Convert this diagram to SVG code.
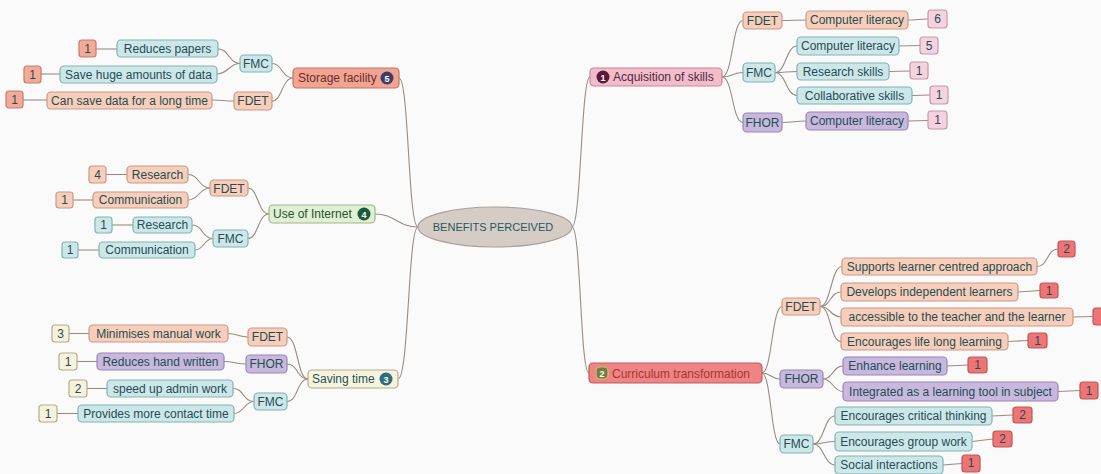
<svg xmlns="http://www.w3.org/2000/svg" width="1101" height="474" viewBox="0 0 1101 474">
<style>
text{font-family:"Liberation Sans",Arial,sans-serif;font-size:12px;fill:#244d54;}
.m{text-anchor:middle;}
rect{stroke-width:1.2;}
.s{fill:#f8cdb9;stroke:#c59c8a;}
.t{fill:#cde7e9;stroke:#80b3b8;}
.p{fill:#c8b8de;stroke:#9886b6;}
.g{fill:#e1efd2;stroke:#9db78c;}
.c{fill:#f6f2dc;stroke:#b4ad8c;}
.sf{fill:#f2a391;stroke:#c17767;}
.sc{fill:#f3ab98;stroke:#c27d6d;}
.pk{fill:#f4bccb;stroke:#c58797;}
.pc{fill:#f6d2de;stroke:#c39aab;}
.r{fill:#ef8484;stroke:#c25a5a;}
.rc{fill:#ee7575;stroke:#c05656;}
.b{font-size:9px;font-weight:bold;fill:#ffffff;text-anchor:middle;}
#connectors path{fill:none;stroke:#9c8b82;stroke-width:1.1;}
</style>
<rect x="0" y="0" width="1101" height="474" fill="#fafafa" stroke="none"/>
<g id="connectors">
<!-- central -->
<path d="M418 227 C408 227 409 78 399 78"/>
<path d="M418 227 C398 227 395 214 375 214"/>
<path d="M418 227 C408 227 409 379 398 379"/>
<path d="M572 227 C581 227 581 77 590 77"/>
<path d="M572 227 C581 227 580 373 589 373"/>
<!-- storage -->
<path d="M293 78 C282 78 282 63.5 272 63.5"/>
<path d="M293 78 C282 78 282 101 272 101"/>
<path d="M240 63.5 C229 63.5 229 49 218 49"/>
<path d="M240 63.5 C229 63.5 228 74 217 74"/>
<path d="M117 49 L96 49"/>
<path d="M60 74 L41 74"/>
<path d="M234 101 C223 101 223 100 212 100"/>
<path d="M47 100 L22 100"/>
<!-- internet -->
<path d="M269 214 C258 214 258 188 248 188"/>
<path d="M269 214 C258 214 258 238.5 248 238.5"/>
<path d="M210 188 C199 188 199 174.5 188 174.5"/>
<path d="M210 188 C199 188 199 200 188 200"/>
<path d="M127 174.5 L106 174.5"/>
<path d="M93 200 L73 200"/>
<path d="M213 238.5 C202 238.5 203 225 192 225"/>
<path d="M213 238.5 C204 238.5 204 250 195 250"/>
<path d="M133 225 L112 225"/>
<path d="M99 250 L78 250"/>
<!-- saving -->
<path d="M308 379 C297 379 298 337 287 337"/>
<path d="M308 379 C297 379 298 364 287 364"/>
<path d="M308 379 C297 379 298 401.5 287 401.5"/>
<path d="M248 337 C238 337 238 333.5 228 333.5"/>
<path d="M89 333.5 L69 333.5"/>
<path d="M246 364 C235 364 235 361.5 224 361.5"/>
<path d="M97 361.5 L77 361.5"/>
<path d="M254 401.5 C243 401.5 244 388.5 233 388.5"/>
<path d="M254 401.5 C244 401.5 244 413.5 234 413.5"/>
<path d="M107 388.5 L87 388.5"/>
<path d="M78 413.5 L57 413.5"/>
<!-- acquisition -->
<path d="M722 77 C733 77 732 20.5 743 20.5"/>
<path d="M722 77 C733 77 732 72.5 743 72.5"/>
<path d="M722 77 C733 77 732 122.5 743 122.5"/>
<path d="M782 20.5 C794 20.5 794 20 806 20"/>
<path d="M908 20 C918 20 918 19 928 19"/>
<path d="M775 72.5 C786 72.5 786 46 797 46"/>
<path d="M775 72.5 C786 72.5 786 71.5 797 71.5"/>
<path d="M775 72.5 C786 72.5 786 95.5 797 95.5"/>
<path d="M899 46 L920 45.5"/>
<path d="M889 71.5 L910 71"/>
<path d="M912 95.5 L930 95"/>
<path d="M782 122.5 C794 122.5 794 121 806 121"/>
<path d="M908 121 L928 120.5"/>
<!-- curriculum -->
<path d="M762 373 C772 373 772 306.5 782 306.5"/>
<path d="M762 373 C771 373 771 379 780 379"/>
<path d="M762 373 C771 373 771 444 780 444"/>
<path d="M820 306.5 C831 306.5 831 266.5 842 266.5"/>
<path d="M820 306.5 C831 306.5 830 292 841 292"/>
<path d="M820 306.5 C831 306.5 830 317 841 317"/>
<path d="M820 306.5 C831 306.5 830 341.5 841 341.5"/>
<path d="M1037 266.5 C1048 266.5 1047 249 1058 249"/>
<path d="M1018 292 L1040 290.5"/>
<path d="M1073 317 L1093 316.5"/>
<path d="M1008 341.5 L1028 340.5"/>
<path d="M823 379 C833 379 833 366 843 366"/>
<path d="M823 379 C833 379 833 391.5 843 391.5"/>
<path d="M947 366 L968 365"/>
<path d="M1058 391.5 L1080 390.5"/>
<path d="M813 444 C824 444 824 416 835 416"/>
<path d="M813 444 C824 444 824 441.5 835 441.5"/>
<path d="M813 444 C824 444 824 465 835 465"/>
<path d="M992 416 L1013 415"/>
<path d="M972 441.5 L993 439"/>
<path d="M943 465 L962 463.5"/>
</g>

<g id="center">
<ellipse cx="495" cy="227" rx="77" ry="20" fill="#d6ccc6" stroke="#a9a09a" stroke-width="1.2"/>
<text x="493" y="231" class="m" style="font-size:11px;fill:#1f5a60">BENEFITS PERCEIVED</text>
</g>

<!-- Storage facility -->
<g id="storage"><rect class="sf" x="293" y="68" width="106" height="20" rx="4"/><text x="298" y="82" style="fill:#6a2e2c">Storage facility</text><circle cx="387" cy="78" r="6.5" fill="#3b3e6c"/><text class="b" x="387" y="81.5">5</text></g>
<g id="st-fmc"><rect class="t" x="240" y="55" width="32" height="17" rx="4"/><text class="m" x="256" y="67.5">FMC</text></g>
<g id="st-fdet"><rect class="s" x="234" y="92" width="38" height="18" rx="4"/><text class="m" x="253" y="105">FDET</text></g>
<g id="st-1"><rect class="t" x="117" y="40" width="101" height="17" rx="4"/><text class="m" x="167.5" y="53">Reduces papers</text></g>
<g id="st-1n"><rect class="sc" x="79" y="40" width="17" height="17" rx="3"/><text class="m" x="87.5" y="53">1</text></g>
<g id="st-2"><rect class="t" x="60" y="66" width="157" height="17" rx="4"/><text class="m" x="138.5" y="78.5">Save huge amounts of data</text></g>
<g id="st-2n"><rect class="sc" x="24" y="66" width="17" height="17" rx="3"/><text class="m" x="32.5" y="78.5">1</text></g>
<g id="st-3"><rect class="s" x="47" y="92" width="165" height="17" rx="4"/><text class="m" x="129.5" y="104.5">Can save data for a long time</text></g>
<g id="st-3n"><rect class="sc" x="6" y="91" width="17" height="17" rx="3"/><text class="m" x="14.5" y="103.5">1</text></g>

<!-- Use of Internet -->
<g id="internet"><rect class="g" x="269" y="205" width="106" height="18" rx="4"/><text x="273" y="218" style="fill:#1d5538">Use of Internet</text><circle cx="364" cy="214" r="6.5" fill="#1c5a3c"/><text class="b" x="364" y="217.5">4</text></g>
<g id="in-fdet"><rect class="s" x="210" y="180" width="38" height="16" rx="4"/><text class="m" x="229" y="192.5">FDET</text></g>
<g id="in-fmc"><rect class="t" x="213" y="230" width="35" height="17" rx="4"/><text class="m" x="230.5" y="242.5">FMC</text></g>
<g id="in-1"><rect class="s" x="127" y="166" width="61" height="17" rx="4"/><text class="m" x="157.5" y="178.5">Research</text></g>
<g id="in-1n"><rect class="s" x="89" y="166" width="17" height="17" rx="3"/><text class="m" x="97.5" y="178.5">4</text></g>
<g id="in-2"><rect class="s" x="93" y="192" width="95" height="16" rx="4"/><text class="m" x="140.5" y="204">Communication</text></g>
<g id="in-2n"><rect class="s" x="56" y="192" width="17" height="16" rx="3"/><text class="m" x="64.5" y="204">1</text></g>
<g id="in-3"><rect class="t" x="133" y="217" width="59" height="16" rx="4"/><text class="m" x="162.5" y="229">Research</text></g>
<g id="in-3n"><rect class="t" x="95" y="217" width="17" height="16" rx="3"/><text class="m" x="103.5" y="229">1</text></g>
<g id="in-4"><rect class="t" x="99" y="242" width="96" height="16" rx="4"/><text class="m" x="147" y="254">Communication</text></g>
<g id="in-4n"><rect class="t" x="62" y="242" width="16" height="16" rx="3"/><text class="m" x="70" y="254">1</text></g>

<!-- Saving time -->
<g id="saving"><rect class="c" x="308" y="370" width="90" height="18" rx="4"/><text x="312" y="383" style="fill:#1e5558">Saving time</text><circle cx="386" cy="379" r="6.5" fill="#2f6d7e"/><text class="b" x="386" y="382.5">3</text></g>
<g id="sv-fdet"><rect class="s" x="248" y="328" width="39" height="18" rx="4"/><text class="m" x="267.5" y="341">FDET</text></g>
<g id="sv-fhor"><rect class="p" x="246" y="355" width="41" height="18" rx="4"/><text class="m" x="266.5" y="368">FHOR</text></g>
<g id="sv-fmc"><rect class="t" x="254" y="393" width="33" height="17" rx="4"/><text class="m" x="270.5" y="405.5">FMC</text></g>
<g id="sv-1"><rect class="s" x="89" y="325" width="139" height="17" rx="4"/><text class="m" x="158.5" y="337.5">Minimises manual work</text></g>
<g id="sv-1n"><rect class="c" x="52" y="325" width="17" height="17" rx="3"/><text class="m" x="60.5" y="337.5">3</text></g>
<g id="sv-2"><rect class="p" x="97" y="353" width="127" height="17" rx="4"/><text class="m" x="160.5" y="365.5">Reduces hand written</text></g>
<g id="sv-2n"><rect class="c" x="59" y="353" width="18" height="17" rx="3"/><text class="m" x="68" y="365.5">1</text></g>
<g id="sv-3"><rect class="t" x="107" y="380" width="126" height="17" rx="4"/><text class="m" x="170" y="392.5">speed up admin work</text></g>
<g id="sv-3n"><rect class="c" x="69" y="380" width="18" height="17" rx="3"/><text class="m" x="78" y="392.5">2</text></g>
<g id="sv-4"><rect class="t" x="78" y="405" width="156" height="17" rx="4"/><text class="m" x="156" y="417.5">Provides more contact time</text></g>
<g id="sv-4n"><rect class="c" x="39" y="405" width="18" height="17" rx="3"/><text class="m" x="48" y="417.5">1</text></g>

<!-- Acquisition of skills -->
<g id="acquisition"><rect class="pk" x="590" y="68" width="132" height="18" rx="4"/><circle cx="603" cy="77" r="6.5" fill="#5a1b3a"/><text class="b" x="603" y="80.5">1</text><text x="613" y="81" style="fill:#4a2a3e">Acquisition of skills</text></g>
<g id="aq-fdet"><rect class="s" x="743" y="12" width="39" height="17" rx="4"/><text class="m" x="762.5" y="24.5">FDET</text></g>
<g id="aq-fmc"><rect class="t" x="743" y="63" width="32" height="19" rx="4"/><text class="m" x="759" y="76.5">FMC</text></g>
<g id="aq-fhor"><rect class="p" x="743" y="113" width="39" height="19" rx="4"/><text class="m" x="762.5" y="126.5">FHOR</text></g>
<g id="aq-1"><rect class="s" x="806" y="11" width="102" height="18" rx="4"/><text class="m" x="857" y="24">Computer literacy</text></g>
<g id="aq-1n"><rect class="pc" x="928" y="10" width="19" height="18" rx="3"/><text class="m" x="937.5" y="23">6</text></g>
<g id="aq-2"><rect class="t" x="797" y="37" width="102" height="18" rx="4"/><text class="m" x="848" y="50">Computer literacy</text></g>
<g id="aq-2n"><rect class="pc" x="920" y="37" width="18" height="17" rx="3"/><text class="m" x="929" y="49.5">5</text></g>
<g id="aq-3"><rect class="t" x="797" y="63" width="92" height="17" rx="4"/><text class="m" x="843" y="75.5">Research skills</text></g>
<g id="aq-3n"><rect class="pc" x="910" y="62" width="18" height="17" rx="3"/><text class="m" x="919" y="74.5">1</text></g>
<g id="aq-4"><rect class="t" x="797" y="87" width="115" height="17" rx="4"/><text class="m" x="854.5" y="99.5">Collaborative skills</text></g>
<g id="aq-4n"><rect class="pc" x="930" y="86" width="18" height="18" rx="3"/><text class="m" x="939" y="99">1</text></g>
<g id="aq-5"><rect class="p" x="806" y="112" width="102" height="18" rx="4"/><text class="m" x="857" y="125">Computer literacy</text></g>
<g id="aq-5n"><rect class="pc" x="928" y="111" width="19" height="18" rx="3"/><text class="m" x="937.5" y="124">1</text></g>

<!-- Curriculum transformation -->
<g id="curriculum"><rect class="r" x="589" y="363" width="173" height="20" rx="4"/><rect x="596" y="367" width="12" height="12" rx="4" fill="#7c7a3c" stroke="#c9c27a" stroke-width="1"/><text class="b" x="602" y="376.5">2</text><text x="612" y="377.5" style="fill:#a83535">Curriculum transformation</text></g>
<g id="cu-fdet"><rect class="s" x="782" y="298" width="38" height="17" rx="4"/><text class="m" x="801" y="310.5">FDET</text></g>
<g id="cu-fhor"><rect class="p" x="780" y="370" width="43" height="18" rx="4"/><text class="m" x="801.5" y="383">FHOR</text></g>
<g id="cu-fmc"><rect class="t" x="780" y="435" width="33" height="18" rx="4"/><text class="m" x="796.5" y="448">FMC</text></g>
<g id="cu-1"><rect class="s" x="842" y="258" width="195" height="17" rx="4"/><text class="m" x="939.5" y="270.5">Supports learner centred approach</text></g>
<g id="cu-1n"><rect class="rc" x="1058" y="241" width="17" height="16" rx="3"/><text class="m" x="1066.5" y="253">2</text></g>
<g id="cu-2"><rect class="s" x="841" y="283" width="177" height="18" rx="4"/><text class="m" x="929.5" y="296">Develops independent learners</text></g>
<g id="cu-2n"><rect class="rc" x="1040" y="283" width="18" height="15" rx="3"/><text class="m" x="1049" y="294.5">1</text></g>
<g id="cu-3"><rect class="s" x="841" y="308" width="232" height="18" rx="4"/><text class="m" x="957" y="321">accessible to the teacher and the learner</text></g>
<g id="cu-3n"><rect class="rc" x="1093" y="308" width="18" height="17" rx="3"/></g>
<g id="cu-4"><rect class="s" x="841" y="333" width="167" height="17" rx="4"/><text class="m" x="924.5" y="345.5">Encourages life long learning</text></g>
<g id="cu-4n"><rect class="rc" x="1028" y="333" width="19" height="15" rx="3"/><text class="m" x="1037.5" y="344.5">1</text></g>
<g id="cu-5"><rect class="p" x="843" y="357" width="104" height="18" rx="4"/><text class="m" x="895" y="370">Enhance learning</text></g>
<g id="cu-5n"><rect class="rc" x="968" y="357" width="19" height="16" rx="3"/><text class="m" x="977.5" y="369">1</text></g>
<g id="cu-6"><rect class="p" x="843" y="382" width="215" height="19" rx="4"/><text class="m" x="950.5" y="395.5">Integrated as a learning tool in subject</text></g>
<g id="cu-6n"><rect class="rc" x="1080" y="382" width="18" height="17" rx="3"/><text class="m" x="1089" y="394.5">1</text></g>
<g id="cu-7"><rect class="t" x="835" y="407" width="157" height="18" rx="4"/><text class="m" x="913.5" y="420">Encourages critical thinking</text></g>
<g id="cu-7n"><rect class="rc" x="1013" y="407" width="19" height="16" rx="3"/><text class="m" x="1022.5" y="419">2</text></g>
<g id="cu-8"><rect class="t" x="835" y="432" width="137" height="19" rx="4"/><text class="m" x="903.5" y="445.5">Encourages group work</text></g>
<g id="cu-8n"><rect class="rc" x="993" y="431" width="19" height="16" rx="3"/><text class="m" x="1002.5" y="443">2</text></g>
<g id="cu-9"><rect class="t" x="835" y="456" width="108" height="18" rx="4"/><text class="m" x="889" y="469">Social interactions</text></g>
<g id="cu-9n"><rect class="rc" x="962" y="455" width="18" height="17" rx="3"/><text class="m" x="971" y="467">1</text></g>
</svg>
